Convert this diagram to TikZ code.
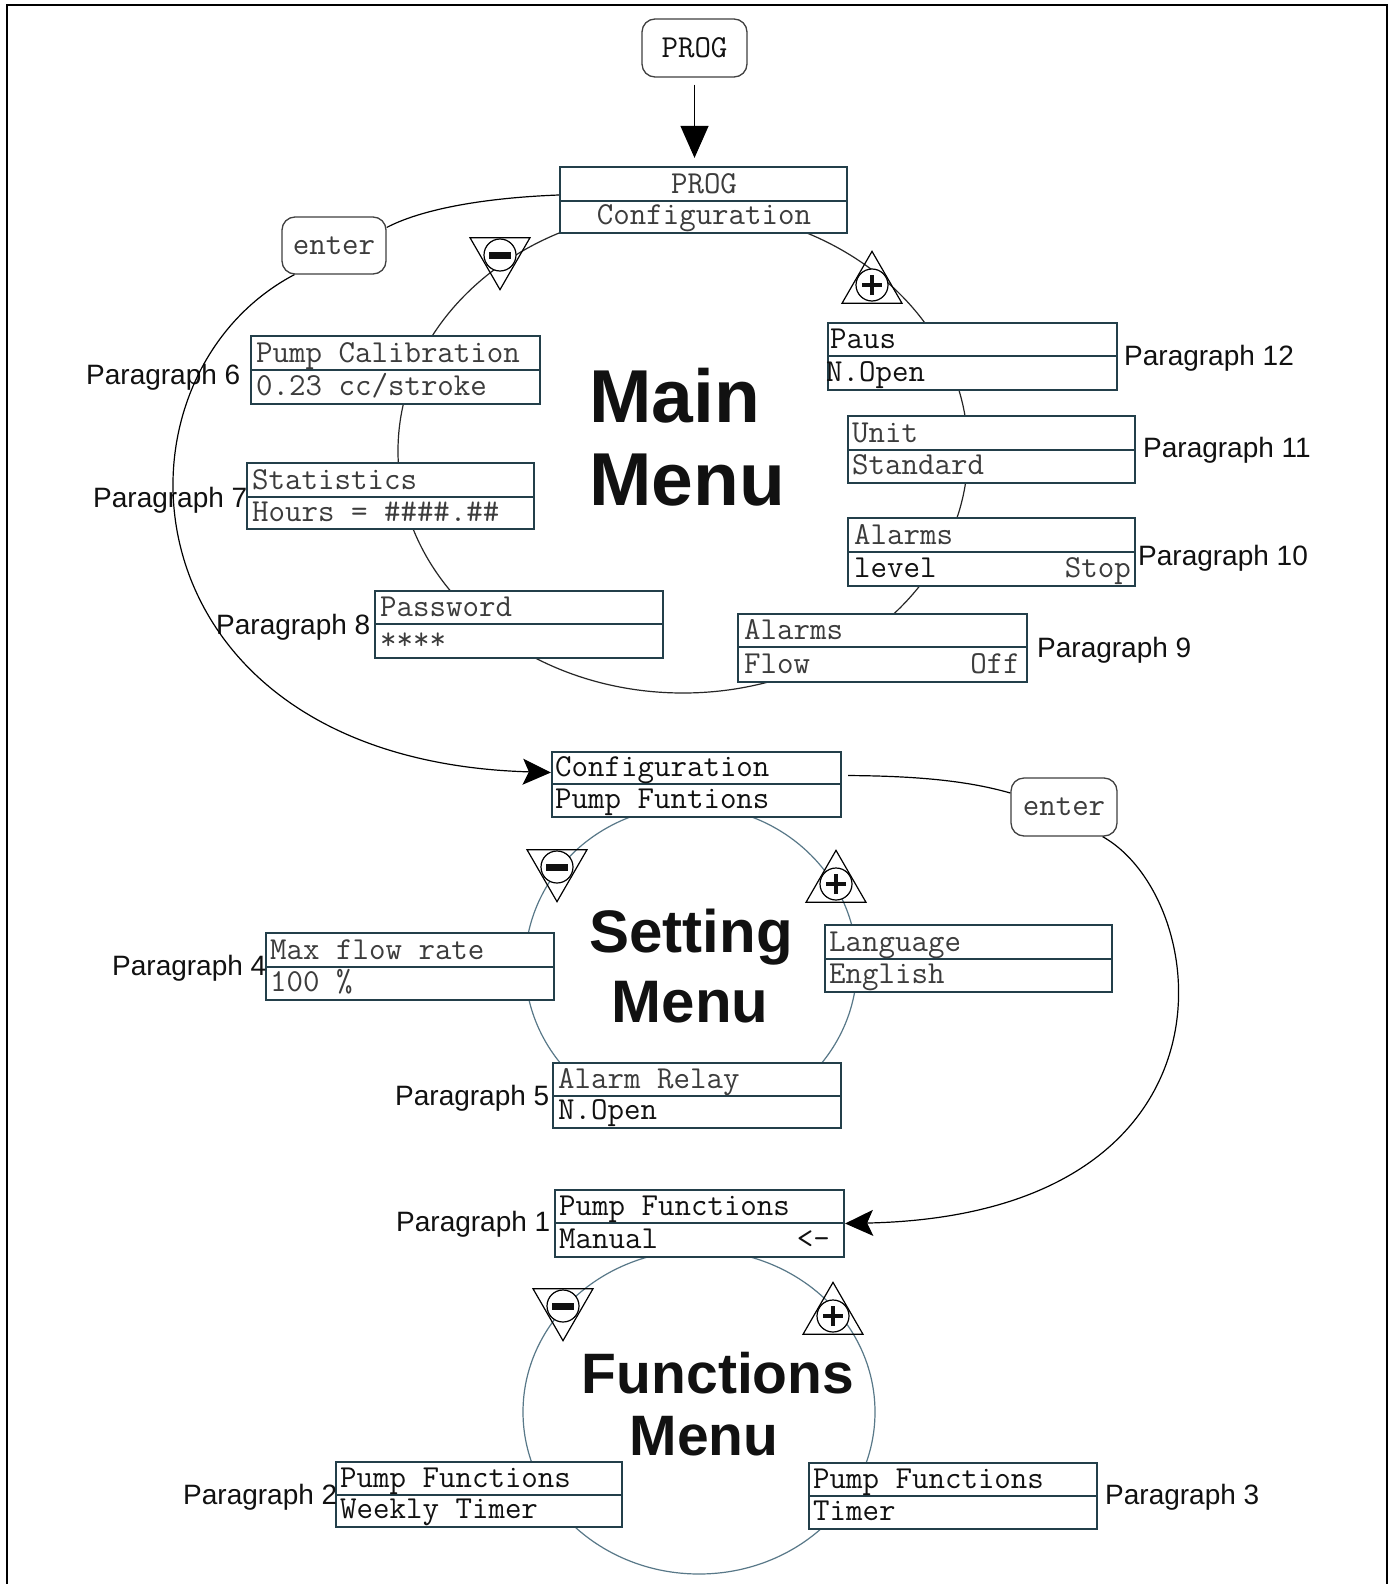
\documentclass[tikz,border=0pt]{standalone}
\usepackage{fontspec}
\setmainfont{Liberation Sans}
\usetikzlibrary{arrows.meta,shapes.geometric,fit}

\definecolor{boxline}{HTML}{233F4A}
\definecolor{circline}{HTML}{587888}
\definecolor{txtgray}{HTML}{3C3C3C}
\definecolor{txtdark}{HTML}{111111}

\tikzset{
  dbox/.style={draw=boxline, line width=2.2pt, fill=white, inner sep=0pt},
  divline/.style={draw=boxline, line width=1.8pt},
  mono/.style={font=\ttfamily\fontsize{32}{32}\selectfont, inner sep=0pt, text=txtgray},
  monodark/.style={mono, text=txtdark},
  para/.style={font=\fontsize{28}{28}\selectfont, inner sep=0pt, anchor=base west, text=txtdark},
  bigtitle/.style={font=\bfseries\fontsize{#1}{#1}\selectfont, inner sep=0pt, text=txtdark},
  keybox/.style={draw=black!75, line width=1.3pt, rounded corners=13pt, inner sep=0pt, fill=white},
  tridown/.style={regular polygon, regular polygon sides=3, shape border rotate=180, draw, line width=1.2pt, minimum size=69.3pt, inner sep=0pt},
  triup/.style={regular polygon, regular polygon sides=3, draw, line width=1.2pt, minimum size=69.3pt, inner sep=0pt},
  symcirc/.style={circle, draw, line width=1.2pt, fill=white, minimum size=32pt, inner sep=0pt},
  conn/.style={draw=black, line width=1.2pt},
  ring/.style={ellipse, draw, line width=1.2pt, inner sep=0pt},
  bigtip/.style={-{Stealth[length=28pt,width=26pt,inset=6pt]}},
}

% display box: name, x1, y1, x2, ydiv, y2
\newcommand\dispbox[6]{%
  \node[dbox, fit={(#2,#3) (#4,#6)}] (#1) {};
  \draw[divline] (#2,#5) -- (#4,#5);
}
% minus key: name, x, y
\newcommand\minuskey[3]{%
  \node[tridown] (#1) at (#2,#3) {};
  \node[symcirc] (#1c) at (#1.center) {};
  \fill[txtdark] ([xshift=-11pt,yshift=-3.5pt]#1c.center) rectangle ([xshift=11pt,yshift=3.5pt]#1c.center);
}
% plus key: name, x, y (centroid)
\newcommand\pluskey[3]{%
  \node[triup] (#1) at (#2,#3) {};
  \node[symcirc] (#1c) at ([yshift=1pt]#1.center) {};
  \draw[txtdark, line width=3.6pt] ([xshift=-10pt]#1c.center) -- ([xshift=10pt]#1c.center);
  \draw[txtdark, line width=3.6pt] ([yshift=-10pt]#1c.center) -- ([yshift=10pt]#1c.center);
}

\begin{document}
\begin{tikzpicture}[x=1pt,y=-1pt]
\useasboundingbox (0,0) rectangle (1393,1584);
\fill[white] (0,0) rectangle (1393,1584);
\draw[line width=2.5pt] (7,1584) -- (7,5) -- (1387,5) -- (1387,1584);

% rings
\node[ring, draw=black!85, minimum width=570pt, minimum height=484pt] (mainring) at (683,451) {};
\node[ring, draw=circline, minimum width=332pt, minimum height=318pt] (setring) at (691,965) {};
\node[ring, draw=circline, minimum width=352pt, minimum height=324pt] (funcring) at (699,1412) {};

% key boxes
\node[keybox, fit={(642,19) (747,77)}] (prog) {};
\node[mono, text=txtdark] (progt) at (prog.center) {PROG};
\node[keybox, fit={(282,217) (386,274)}] (enterA) {};
\node[mono] (enterAt) at (enterA.center) {enter};
\node[keybox, fit={(1011,778) (1117,836)}] (enterB) {};
\node[mono] (enterBt) at (enterB.center) {enter};

% display boxes - main menu
\dispbox{cfg}{560}{167}{847}{201}{233}
\node[mono, anchor=base] (cfga) at (704,193) {PROG};
\node[mono, anchor=base] (cfgb) at (704,224) {Configuration};

\dispbox{pcal}{251}{336}{540}{370}{404}
\node[mono, anchor=base west] (pcala) at (256,362) {Pump Calibration};
\node[mono, anchor=base west] (pcalb) at (256,395) {0.23 cc/stroke};

\dispbox{stat}{247}{463}{534}{497}{529}
\node[mono, anchor=base west] (stata) at (252,489) {Statistics};
\node[mono, anchor=base west] (statb) at (252,521) {Hours = \#\#\#\#.\#\#};

\dispbox{pass}{375}{591}{663}{624}{658}
\node[mono, anchor=base west] (passa) at (380,616) {Password};
\node[mono, anchor=base west] (passb) at (380,649) {****};

\dispbox{paus}{828}{323}{1117}{356}{390}
\node[monodark, anchor=base west] (pausa) at (830,348) {Paus};
\node[monodark, anchor=base west] (pausb) at (826,381) {N.Open};

\dispbox{unit}{848}{416}{1135}{450}{483}
\node[mono, anchor=base west] (unita) at (852,442) {Unit};
\node[mono, anchor=base west] (unitb) at (852,474) {Standard};

\dispbox{lvl}{848}{518}{1135}{552}{586}
\node[mono, anchor=base west] (lvla) at (854,544) {Alarms};
\node[monodark, anchor=base west] (lvlb) at (854,577) {level};
\node[mono, anchor=base east] (lvlc) at (1131,577) {Stop};

\dispbox{flow}{738}{614}{1027}{647}{682}
\node[mono, anchor=base west] (flowa) at (744,639) {Alarms};
\node[mono, anchor=base west] (flowb) at (744,673) {Flow};
\node[mono, anchor=base east] (flowc) at (1020,673) {Off};

% setting menu boxes
\dispbox{scfg}{552}{752}{841}{784}{817}
\node[monodark, anchor=base west] (scfga) at (555,776) {Configuration};
\node[monodark, anchor=base west] (scfgb) at (555,808) {Pump Funtions};

\dispbox{maxf}{266}{933}{554}{967}{1000}
\node[mono, anchor=base west] (maxfa) at (270,959) {Max flow rate};
\node[mono, anchor=base west] (maxfb) at (270,991) {100 \%};

\dispbox{lang}{825}{925}{1112}{959}{992}
\node[mono, anchor=base west] (langa) at (829,951) {Language};
\node[mono, anchor=base west] (langb) at (829,983) {English};

\dispbox{relay}{553}{1063}{841}{1096}{1128}
\node[mono, anchor=base west] (relaya) at (558,1088) {Alarm Relay};
\node[monodark, anchor=base west] (relayb) at (558,1119) {N.Open};

% functions menu boxes
\dispbox{pfa}{555}{1190}{844}{1223}{1257}
\node[monodark, anchor=base west] (pfaa) at (559,1215) {Pump Functions};
\node[monodark, anchor=base west] (pfab) at (559,1248) {Manual};
\node[monodark, anchor=base east] (pfac) at (830,1248) {<-};

\dispbox{pfb}{336}{1462}{622}{1495}{1527}
\node[monodark, anchor=base west] (pfba) at (340,1487) {Pump Functions};
\node[monodark, anchor=base west] (pfbb) at (340,1518) {Weekly Timer};

\dispbox{pfc}{809}{1463}{1097}{1496}{1529}
\node[monodark, anchor=base west] (pfca) at (813,1488) {Pump Functions};
\node[monodark, anchor=base west] (pfcb) at (813,1520) {Timer};

% keys
\minuskey{mainminus}{500}{255}
\pluskey{mainplus}{872}{286}
\minuskey{setminus}{557}{867}
\pluskey{setplus}{836}{885}
\minuskey{funcminus}{563}{1306}
\pluskey{funcplus}{833}{1317}

% titles
\node[bigtitle=75, anchor=base west] (tmain1) at (589,422) {Main};
\node[bigtitle=75, anchor=base west] (tmain2) at (589,505) {Menu};
\node[bigtitle=60, anchor=base] (tset1) at (691,952) {Setting};
\node[bigtitle=60, anchor=base] (tset2) at (690,1022) {Menu};
\node[bigtitle=57, anchor=base] (tfun1) at (718,1393) {Functions};
\node[bigtitle=57, anchor=base] (tfun2) at (704,1455) {Menu};

% paragraph labels
\node[para] (p6) at (86,384) {Paragraph 6};
\node[para] (p7) at (93,507) {Paragraph 7};
\node[para] (p8) at (216,634) {Paragraph 8};
\node[para] (p12) at (1124,365) {Paragraph 12};
\node[para] (p11) at (1143,457) {Paragraph 11};
\node[para] (p10) at (1138,565) {Paragraph 10};
\node[para] (p9) at (1037,657) {Paragraph 9};
\node[para] (p4) at (112,975) {Paragraph 4};
\node[para] (p5) at (395,1105) {Paragraph 5};
\node[para] (p1) at (396,1231) {Paragraph 1};
\node[para] (p2) at (183,1504) {Paragraph 2};
\node[para] (p3) at (1105,1504) {Paragraph 3};

% connectors
\draw[conn, -{Triangle[length=32pt,width=28pt]}, shorten <=7pt, shorten >=8pt]
  (prog.south) -- (prog.south |- cfg.north);
\draw[conn] ([yshift=5pt]cfg.west) .. controls (480,198) and (420,210) .. ([yshift=18pt]enterA.east);
\draw[conn, bigtip] ([xshift=13pt]enterA.south west) .. controls (95,380) and (120,760) .. ([yshift=12pt]scfg.west);
\draw[conn, shorten <=6pt] ([yshift=9pt]scfg.east) .. controls (930,776) and (975,783) .. ([yshift=14pt]enterB.west);
\draw[conn, bigtip] ([xshift=-15pt]enterB.south east) .. controls (1215,900) and (1250,1215) .. (pfa.east);
\end{tikzpicture}
\end{document}
